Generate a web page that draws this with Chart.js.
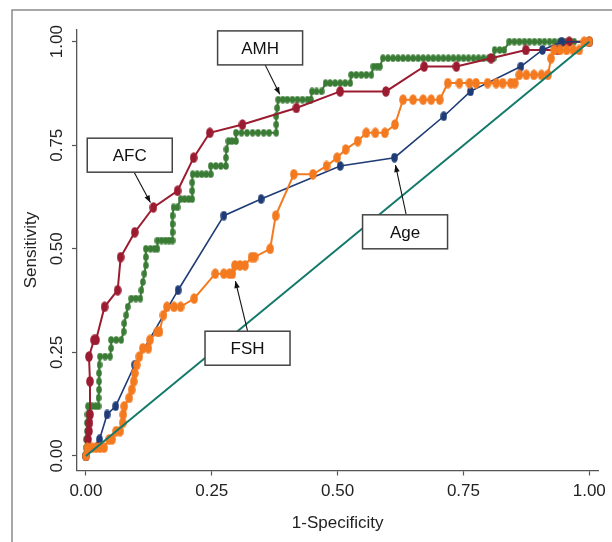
<!DOCTYPE html>
<html>
<head>
<meta charset="utf-8">
<title>ROC curves: AFC, AMH, FSH, Age</title>
<script src="https://cdn.jsdelivr.net/npm/chart.js@4.4.1/dist/chart.umd.min.js"></script>
<style>
    html, body { margin: 0; padding: 0; background: #fff; }
    #wrap { width: 612px; height: 542px; }
</style>
</head>
<body>
<div id="wrap"><canvas id="rocChart" width="612" height="542"></canvas></div>
<script>
// Axis ticks (same on both axes)
const tickValues = [0, 0.25, 0.5, 0.75, 1];

// AFC curve (1-specificity, sensitivity)
const afcX = [0, 0.004, 0.006, 0.007, 0.008, 0.008, 0.006, 0.016, 0.020, 0.037, 0.063, 0.069, 0.097, 0.134,
    0.182, 0.214, 0.246, 0.311, 0.418, 0.505, 0.596, 0.672, 0.736, 0.805, 0.874, 0.937, 0.960, 1];
const afcY = [0, 0.04, 0.06, 0.08, 0.10, 0.18, 0.24, 0.28, 0.28, 0.36, 0.40, 0.48, 0.54, 0.60,
    0.64, 0.72, 0.78, 0.80, 0.84, 0.88, 0.88, 0.94, 0.94, 0.96, 0.98, 0.98, 1.00, 1];

// AMH curve
const amhX = [0, 0, 0, 0.002, 0.002, 0.003, 0.004, 0.012, 0.019, 0.025,
    0.025, 0.026, 0.026, 0.026, 0.027, 0.028, 0.038, 0.048, 0.050, 0.050,
    0.060, 0.070, 0.075, 0.076, 0.080, 0.083, 0.090, 0.099, 0.108, 0.110,
    0.113, 0.116, 0.119, 0.119, 0.119, 0.128, 0.136, 0.142, 0.142, 0.150,
    0.158, 0.165, 0.172, 0.172, 0.172, 0.172, 0.174, 0.182, 0.188, 0.196,
    0.204, 0.211, 0.211, 0.211, 0.212, 0.221, 0.230, 0.239, 0.248, 0.248,
    0.258, 0.268, 0.278, 0.278, 0.279, 0.283, 0.290, 0.298, 0.298, 0.309,
    0.320, 0.331, 0.342, 0.353, 0.364, 0.378, 0.378, 0.378, 0.380, 0.382,
    0.391, 0.400, 0.410, 0.420, 0.430, 0.440, 0.447, 0.449, 0.458, 0.468,
    0.476, 0.485, 0.495, 0.505, 0.515, 0.525, 0.527, 0.537, 0.547, 0.557,
    0.567, 0.571, 0.578, 0.584, 0.590, 0.600, 0.610, 0.620, 0.630, 0.640,
    0.650, 0.660, 0.670, 0.680, 0.690, 0.700, 0.710, 0.720, 0.730, 0.740,
    0.750, 0.760, 0.770, 0.780, 0.790, 0.800, 0.810, 0.812, 0.822, 0.831,
    0.841, 0.851, 0.861, 0.871, 0.881, 0.891, 0.901, 0.911, 0.921, 0.931,
    0.941, 0.951, 0.961, 0.970, 1];
const amhY = [0, 0.02, 0.04, 0.06, 0.08, 0.10, 0.12, 0.12, 0.12, 0.12,
    0.14, 0.16, 0.18, 0.20, 0.22, 0.24, 0.24, 0.24, 0.26, 0.28,
    0.28, 0.28, 0.30, 0.32, 0.34, 0.36, 0.38, 0.38, 0.38, 0.40,
    0.42, 0.44, 0.46, 0.48, 0.50, 0.50, 0.50, 0.50, 0.52, 0.52,
    0.52, 0.52, 0.52, 0.54, 0.56, 0.58, 0.60, 0.60, 0.62, 0.62,
    0.62, 0.62, 0.64, 0.66, 0.68, 0.68, 0.68, 0.68, 0.68, 0.70,
    0.70, 0.70, 0.70, 0.72, 0.74, 0.76, 0.76, 0.76, 0.78, 0.78,
    0.78, 0.78, 0.78, 0.78, 0.78, 0.78, 0.80, 0.82, 0.84, 0.86,
    0.86, 0.86, 0.86, 0.86, 0.86, 0.86, 0.86, 0.88, 0.88, 0.88,
    0.90, 0.90, 0.90, 0.90, 0.90, 0.90, 0.92, 0.92, 0.92, 0.92,
    0.92, 0.94, 0.94, 0.94, 0.96, 0.96, 0.96, 0.96, 0.96, 0.96,
    0.96, 0.96, 0.96, 0.96, 0.96, 0.96, 0.96, 0.96, 0.96, 0.96,
    0.96, 0.96, 0.96, 0.96, 0.96, 0.96, 0.96, 0.98, 0.98, 0.98,
    1.00, 1.00, 1.00, 1.00, 1.00, 1.00, 1.00, 1.00, 1.00, 1.00,
    1.00, 1.00, 1.00, 1.00, 1];

// FSH curve
const fshX = [0, 0.003, 0.012, 0.020, 0.028, 0.036, 0.046, 0.052, 0.060, 0.068,
    0.073, 0.074, 0.076, 0.086, 0.091, 0.095, 0.097, 0.101, 0.106, 0.113,
    0.124, 0.127, 0.142, 0.146, 0.154, 0.161, 0.175, 0.188, 0.215, 0.257,
    0.274, 0.285, 0.291, 0.296, 0.306, 0.316, 0.329, 0.335, 0.366, 0.377,
    0.413, 0.451, 0.478, 0.499, 0.516, 0.540, 0.557, 0.575, 0.594, 0.614,
    0.630, 0.650, 0.670, 0.686, 0.703, 0.719, 0.742, 0.762, 0.775, 0.798,
    0.815, 0.828, 0.844, 0.852, 0.861, 0.875, 0.890, 0.905, 0.918, 0.924,
    0.930, 0.942, 0.955, 0.968, 0.980, 0.990, 1];
const fshY = [0, 0.02, 0.02, 0.02, 0.02, 0.02, 0.04, 0.04, 0.06, 0.06,
    0.08, 0.10, 0.12, 0.14, 0.16, 0.18, 0.20, 0.22, 0.24, 0.26,
    0.26, 0.28, 0.30, 0.30, 0.34, 0.36, 0.36, 0.36, 0.38, 0.44,
    0.44, 0.44, 0.44, 0.46, 0.46, 0.46, 0.48, 0.48, 0.50, 0.58,
    0.68, 0.68, 0.70, 0.72, 0.74, 0.76, 0.78, 0.78, 0.78, 0.80,
    0.86, 0.86, 0.86, 0.86, 0.86, 0.90, 0.90, 0.90, 0.90, 0.90,
    0.90, 0.90, 0.90, 0.90, 0.92, 0.92, 0.92, 0.92, 0.92, 0.96,
    0.98, 0.98, 0.98, 0.98, 0.98, 1.00, 1];

// Age curve
const ageX = [0, 0.027, 0.042, 0.059, 0.097, 0.183, 0.274, 0.348, 0.505, 0.613, 0.711, 0.764, 0.864, 0.907, 0.945, 1];
const ageY = [0, 0.04, 0.10, 0.12, 0.22, 0.40, 0.58, 0.62, 0.70, 0.72, 0.82, 0.88, 0.94, 0.98, 1.00, 1];

// Reference (chance) line
const refX = [0, 1];
const refY = [0, 1];

// Labelled arrows: box centre, arrow tail and arrow tip, in data units
const noteLabels = ['AMH', 'AFC', 'Age', 'FSH'];
const noteBoxX = [0.346, 0.087, 0.634, 0.321];
const noteBoxY = [0.985, 0.726, 0.541, 0.260];
const noteTailX = [0.356, 0.096, 0.636, 0.321];
const noteTailY = [0.944, 0.684, 0.584, 0.302];
const noteTipX = [0.385, 0.128, 0.615, 0.297];
const noteTipY = [0.873, 0.612, 0.702, 0.422];

const textFont = { family: "'Liberation Sans', Arial, sans-serif", size: 17 };
const textColor = '#222';
const axisColor = '#555';

// Pair up x and y arrays for the scatter datasets
function toPoints(xs, ys) {
    return xs.map((x, i) => ({ x: x, y: ys[i] }));
}

// Small oval marker drawn once and reused as the point style
function makeDot(color, w, h) {
    const c = document.createElement('canvas');
    c.width = w;
    c.height = h;
    const g = c.getContext('2d');
    g.fillStyle = color;
    g.beginPath();
    g.ellipse(w / 2, h / 2, w / 2 - 0.2, h / 2 - 0.2, 0, 0, Math.PI * 2);
    g.fill();
    return c;
}

const colors = {
    ref: '#14796a',
    fsh: '#f47a20',
    age: '#1f3c76',
    afc: '#9b1c31',
    amh: '#3a7b35'
};

function curve(label, xs, ys, color, width, dot) {
    return {
        label: label,
        data: toPoints(xs, ys),
        showLine: true,
        borderColor: color,
        backgroundColor: color,
        borderWidth: width,
        tension: 0,
        pointStyle: dot,
        pointRadius: dot ? 3 : 0,
        pointHoverRadius: dot ? 3 : 0
    };
}

// Outer figure frame (grey border around the graph region)
const framePlugin = {
    id: 'frame',
    beforeDraw(chart) {
        const c = chart.ctx;
        c.save();
        c.fillStyle = '#fff';
        c.fillRect(0, 0, chart.width, chart.height);
        c.strokeStyle = '#8a8a8a';
        c.lineWidth = 1.5;
        c.beginPath();
        c.moveTo(12, chart.height + 5);
        c.lineTo(12, 10);
        c.lineTo(chart.width + 5, 10);
        c.stroke();
        c.restore();
    }
};

// Boxed labels with arrows pointing at each curve
const notePlugin = {
    id: 'notes',
    afterDatasetsDraw(chart) {
        const c = chart.ctx;
        const xs = chart.scales.x;
        const ys = chart.scales.y;
        c.save();
        noteLabels.forEach((label, i) => {
            const bx = xs.getPixelForValue(noteBoxX[i]);
            const by = ys.getPixelForValue(noteBoxY[i]);
            const tx = xs.getPixelForValue(noteTailX[i]);
            const ty = ys.getPixelForValue(noteTailY[i]);
            const hx = xs.getPixelForValue(noteTipX[i]);
            const hy = ys.getPixelForValue(noteTipY[i]);

            // arrow shaft
            c.strokeStyle = '#111';
            c.lineWidth = 1.1;
            c.beginPath();
            c.moveTo(tx, ty);
            c.lineTo(hx, hy);
            c.stroke();

            // arrow head
            const ang = Math.atan2(hy - ty, hx - tx);
            const len = 7, half = 2.8;
            c.fillStyle = '#111';
            c.beginPath();
            c.moveTo(hx, hy);
            c.lineTo(hx - len * Math.cos(ang) + half * Math.sin(ang), hy - len * Math.sin(ang) - half * Math.cos(ang));
            c.lineTo(hx - len * Math.cos(ang) - half * Math.sin(ang), hy - len * Math.sin(ang) + half * Math.cos(ang));
            c.closePath();
            c.fill();

            // box
            const w = 85, h = 34;
            c.fillStyle = '#fff';
            c.fillRect(bx - w / 2, by - h / 2, w, h);
            c.strokeStyle = '#444';
            c.lineWidth = 1.5;
            c.strokeRect(bx - w / 2, by - h / 2, w, h);

            // text
            c.fillStyle = '#111';
            c.font = textFont.size + 'px ' + textFont.family;
            c.textAlign = 'center';
            c.textBaseline = 'middle';
            c.fillText(label, bx, by + 1);
        });
        c.restore();
    }
};

const ctx = document.getElementById('rocChart').getContext('2d');

const rocChart = new Chart(ctx, {
    type: 'scatter',
    data: {
        // first dataset is drawn on top
        datasets: [
            curve('Reference', refX, refY, colors.ref, 2, null),
            curve('FSH', fshX, fshY, colors.fsh, 2, makeDot(colors.fsh, 8, 11)),
            curve('Age', ageX, ageY, colors.age, 1.6, makeDot(colors.age, 7, 10)),
            curve('AFC', afcX, afcY, colors.afc, 2, makeDot(colors.afc, 8, 11)),
            curve('AMH', amhX, amhY, colors.amh, 2, makeDot(colors.amh, 6, 8))
        ]
    },
    options: {
        responsive: false,
        animation: false,
        events: [],
        layout: { padding: { top: 29.5, right: 11, bottom: 0, left: 0 } },
        plugins: {
            legend: { display: false },
            tooltip: { enabled: false }
        },
        scales: {
            x: {
                type: 'linear',
                min: -0.0178,
                max: 1.0178,
                afterBuildTicks: function (scale) {
                    scale.ticks = tickValues.map(v => ({ value: v }));
                },
                afterFit: function (scale) {
                    scale.height = 71.5;
                },
                ticks: {
                    autoSkip: false,
                    maxRotation: 0,
                    padding: 6,
                    font: textFont,
                    color: textColor,
                    callback: v => v.toFixed(2)
                },
                grid: { drawOnChartArea: false, tickLength: 5, color: axisColor, tickWidth: 1.2 },
                border: { color: axisColor, width: 1.3 },
                title: {
                    display: true,
                    text: '1-Specificity',
                    font: textFont,
                    color: textColor,
                    padding: { top: 0, bottom: 8.8 }
                }
            },
            y: {
                type: 'linear',
                min: -0.0352,
                max: 1.0294,
                afterBuildTicks: function (scale) {
                    scale.ticks = tickValues.map(v => ({ value: v }));
                },
                afterFit: function (scale) {
                    scale.width = 77;
                },
                ticks: {
                    autoSkip: false,
                    minRotation: 90,
                    maxRotation: 90,
                    crossAlign: 'center',
                    padding: -2,
                    font: textFont,
                    color: textColor,
                    callback: v => v.toFixed(2)
                },
                grid: { drawOnChartArea: false, tickLength: 5, color: axisColor, tickWidth: 1.2 },
                border: { color: axisColor, width: 1.3 },
                title: {
                    display: true,
                    text: 'Sensitivity',
                    font: textFont,
                    color: textColor,
                    padding: { top: 20.8, bottom: 0 }
                }
            }
        }
    },
    plugins: [framePlugin, notePlugin]
});
</script>
</body>
</html>
